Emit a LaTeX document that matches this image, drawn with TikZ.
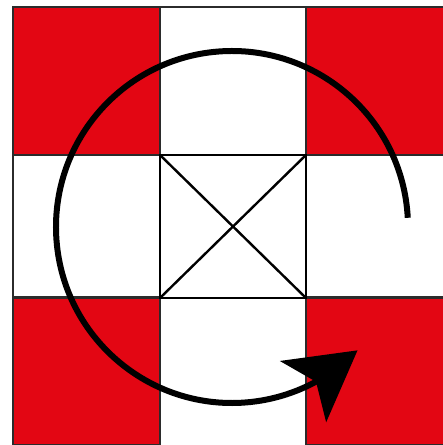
\documentclass[tikz,border=0pt]{standalone}
\usetikzlibrary{arrows.meta,bending}
\definecolor{flagRed}{HTML}{E30613}
\definecolor{gridGray}{HTML}{2B2B2B}
\begin{document}
\begin{tikzpicture}[x=1pt,y=1pt,
  cell/.style={fill=flagRed,draw=gridGray,line width=2.6pt},
  grid/.style={draw=gridGray,line width=2.6pt},
  cross/.style={draw=black,line width=2.4pt},
  turn/.style={line width=6pt,-{Stealth[length=68pt,width=76pt,inset=16pt,flex]}}]
  \useasboundingbox (0,0) rectangle (443,445);
  \begin{scope}
  \clip (0,0) rectangle (443,445);
  % cells: columns at 13,160,306 ; rows (from top) at 7,155,298
  \foreach \xx in {13,306}{ \foreach \yy in {0,290}{ \path[cell] (\xx,\yy) rectangle ++(147,148); } }
  \draw[grid] (13,445-7) -- (460,445-7);
  \draw[grid] (13,-10) -- (13,445-7);
  \draw[grid] (160,-10) -- (160,445-7);
  \draw[grid] (306,-10) -- (306,445-7);
  \draw[grid] (13,445-155) -- (460,445-155);
  \draw[grid] (13,445-298) -- (460,445-298);
  \end{scope}
  % centre cell with diagonals
  \coordinate (nw) at (160,445-155); \coordinate (ne) at (306,445-155);
  \coordinate (sw) at (160,445-298); \coordinate (se) at (306,445-298);
  \draw[cross] (nw) -- (se) (ne) -- (sw);
  \draw[cross] (nw) rectangle (se);
  % rotation arrow
  \coordinate (c) at (232,218);
  \draw[turn] ([shift={(3:176)}]c) arc[start angle=3,end angle=315.5,radius=176];
\end{tikzpicture}
\end{document}
